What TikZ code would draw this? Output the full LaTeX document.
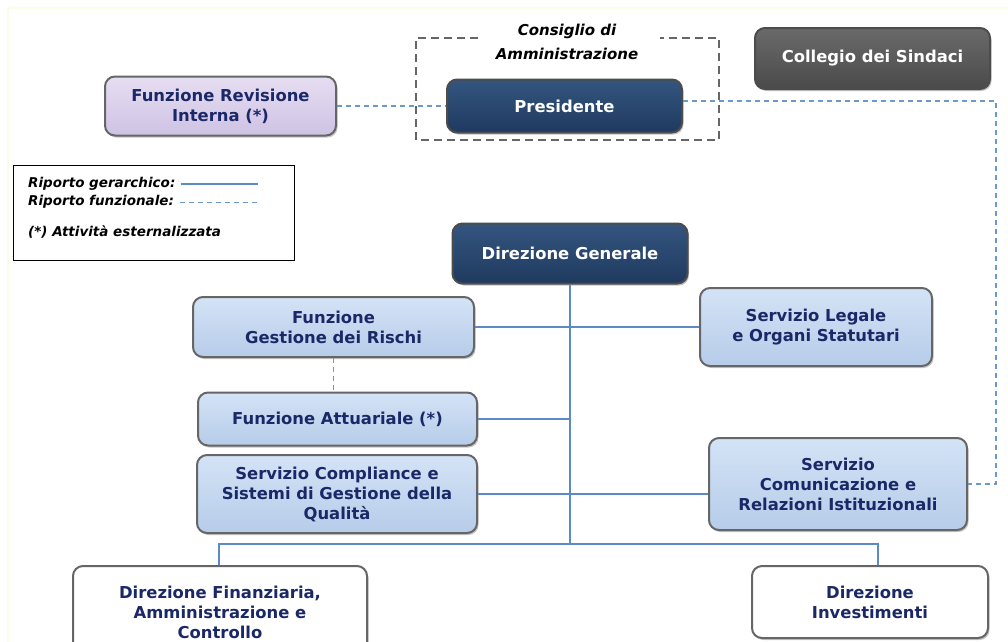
\documentclass[tikz,border=0pt]{standalone}
\usepackage{fontspec}
\setmainfont{DejaVu Sans}
\usetikzlibrary{shadows}
\definecolor{navytxt}{HTML}{1B2868}
\definecolor{lbtop}{HTML}{D4E3F6}
\definecolor{lbbot}{HTML}{B6CCE9}
\definecolor{dktop}{HTML}{34557F}
\definecolor{dkbot}{HTML}{1F3A60}
\definecolor{grtop}{HTML}{6A6A6A}
\definecolor{grbot}{HTML}{4A4A4A}
\definecolor{lvtop}{HTML}{E6DEF2}
\definecolor{lvbot}{HTML}{CFC2E4}
\definecolor{linec}{HTML}{5B8AC6}
\definecolor{dashc}{HTML}{6D98CC}
\definecolor{ylw}{HTML}{FDFDE6}
\tikzset{
  box/.style={rounded corners=10pt, draw=black!60, line width=2pt, align=center,
    font=\bfseries\fontsize{16.4}{20}\selectfont, text=navytxt,
    drop shadow={opacity=0.45, shadow xshift=1.5pt, shadow yshift=-2pt}},
  lightbox/.style={box, top color=lbtop, bottom color=lbbot},
  darkbox/.style={box, top color=dktop, bottom color=dkbot, text=white, draw=black!70},
  greybox/.style={box, top color=grtop, bottom color=grbot, text=white, draw=black!70},
  lavbox/.style={box, top color=lvtop, bottom color=lvbot},
  whitebox/.style={box, fill=white},
  hline/.style={draw=linec, line width=1.3pt},
  fline/.style={draw=dashc, line width=1.3pt, dash pattern=on 5pt off 4pt},
  cdaframe/.style={draw=black!60, line width=2pt, dash pattern=on 8pt off 5pt},
  legtxt/.style={font=\bfseries\itshape\fontsize{13.5}{16}\selectfont, anchor=west, inner sep=0pt},
}
\begin{document}
\begin{tikzpicture}[x=1pt,y=-1pt]
\useasboundingbox (0,0) rectangle (1008,641);
\fill[white] (0,0) rectangle (1008,641);
\draw[ylw, line width=2.5pt] (8,8) -- (1010,8);
\draw[ylw, line width=2.5pt] (8,8) -- (8,645);

% Consiglio di Amministrazione frame
\draw[cdaframe] (478,38) -- (416,38) -- (416,140) -- (719,140) -- (719,38) -- (660,38);
\node[font=\bfseries\itshape\fontsize{15}{24}\selectfont, align=center, inner sep=0pt] (cda) at (567,42) {Consiglio di\\Amministrazione};

% nodes
\node[lavbox, minimum width=231pt, minimum height=59pt] (rev) at (220.5,106) {Funzione Revisione\\Interna (*)};
\node[darkbox, minimum width=235pt, minimum height=53pt] (pres) at (564.5,106) {Presidente};
\node[greybox, minimum width=235pt, minimum height=61pt] (coll) at (872.5,58.5) {Collegio dei Sindaci};
\node[darkbox, minimum width=235pt, minimum height=60pt] (dg) at (570,253.5) {Direzione Generale};
\node[lightbox, minimum width=281pt, minimum height=60pt] (risk) at (333.5,327) {Funzione\\Gestione dei Rischi};
\node[lightbox, minimum width=279pt, minimum height=53pt] (att) at (337.5,419) {Funzione Attuariale (*)};
\node[lightbox, minimum width=280pt, minimum height=78pt] (comp) at (337,494) {Servizio Compliance e\\Sistemi di Gestione della\\Qualità};
\node[lightbox, minimum width=232pt, minimum height=78pt] (leg) at (816,327) {Servizio Legale\\e Organi Statutari};
\node[lightbox, minimum width=258pt, minimum height=92pt] (com) at (838,484) {Servizio\\Comunicazione e\\Relazioni Istituzionali};
\node[whitebox, minimum width=294pt, minimum height=92pt] (fin) at (220,612) {Direzione Finanziaria,\\Amministrazione e\\Controllo};
\node[whitebox, minimum width=236pt, minimum height=72pt] (inv) at (870,602) {Direzione\\Investimenti};

% legend
\draw[black, line width=1pt] (13,165) rectangle (294,260);
\node[legtxt] (l1) at (28,184) {Riporto gerarchico:};
\node[legtxt] (l2) at (28,202) {Riporto funzionale:};
\node[legtxt] (l3) at (28,232) {(*) Attività esternalizzata};
\coordinate (l1e) at (258,184);
\coordinate (l2e) at (258,202);
\draw[hline, line width=1.1pt] ([xshift=5pt]l1.east) -- (l1e);
\draw[fline, line width=1pt] ([xshift=6pt]l2.east) -- (l2e);

% hierarchical connectors
\coordinate (trunk) at (570,544);
\coordinate (busL) at (219,544);
\coordinate (busR) at (878,544);
\draw[hline] (dg.south) -- (trunk);
\draw[hline] (risk.east) -- (leg.west);
\draw[hline] (att.east) -- (att.east -| dg.south);
\draw[hline] (comp.east) -- (comp.east -| com.west);
\draw[hline] (busL |- fin.north) -- (busL) -- (busR) -- (busR |- inv.north);

% functional connectors
\coordinate (rt) at (996,101);
\draw[fline] (rev.east) -- (rev.east -| pres.west);
\draw[fline] (pres.east |- rt) -- (rt) |- (com.east);
\draw[fline] (risk.south) -- (risk.south |- att.north);
\end{tikzpicture}
\end{document}
